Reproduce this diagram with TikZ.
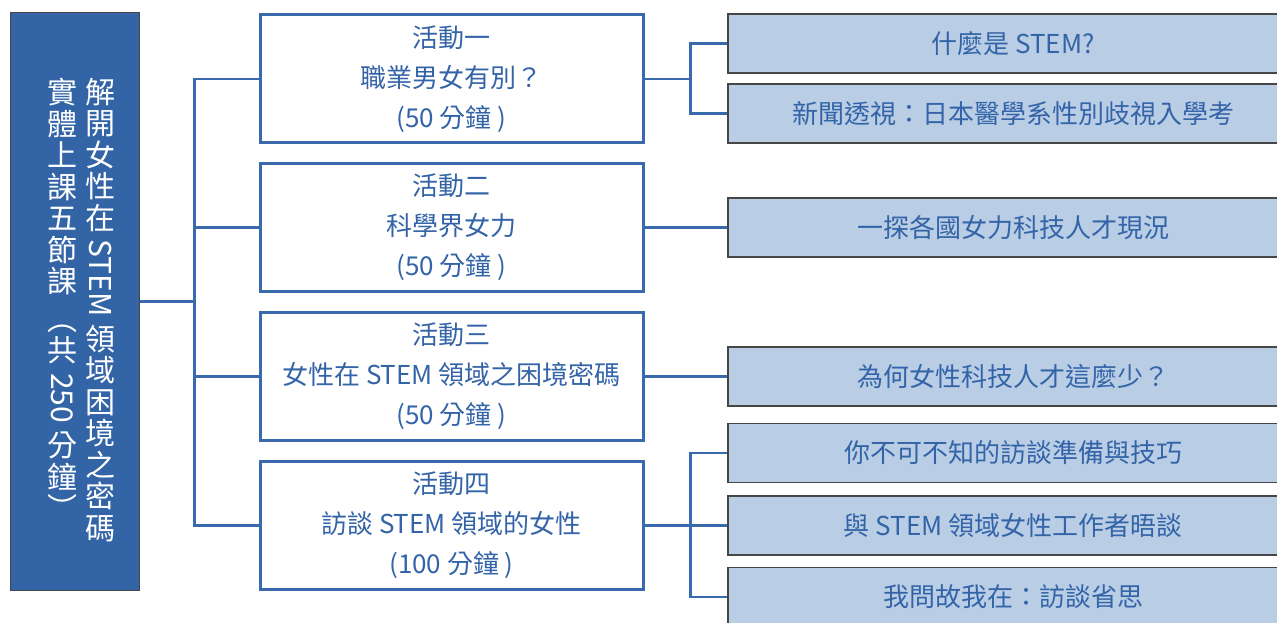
\documentclass[tikz,border=0pt]{standalone}
\usepackage{fontspec}
\setmainfont{Noto Sans CJK TC}
\usepackage{graphicx}
\definecolor{boxblue}{RGB}{50,100,166}
\definecolor{lineblue}{RGB}{58,106,174}
\definecolor{txtblue}{RGB}{52,100,168}
\definecolor{lightfill}{RGB}{185,205,229}
\definecolor{edgegray}{RGB}{70,70,70}
\newcommand\vlat[1]{\rotatebox[origin=c]{-90}{#1}}
\begin{document}
\begin{tikzpicture}[x=1pt,y=-1pt,
 conn/.style={draw=lineblue,line width=2.5pt},
 actbox/.style={draw=lineblue,line width=3pt,fill=white,minimum width=383pt,minimum height=128pt,inner sep=0pt,align=center,text=txtblue,font=\fontsize{26}{40}\selectfont},
 subbox/.style={draw=edgegray,line width=1.5pt,fill=lightfill,minimum width=570pt,minimum height=59pt,inner sep=0pt,text=txtblue,font=\fontsize{26}{30}\selectfont},
 mainbox/.style={draw=edgegray,line width=1pt,fill=boxblue,minimum width=129pt,minimum height=577pt,inner sep=0pt},
 vtext/.style={text=white,align=center,inner sep=0pt,font=\fontsize{30}{31.5}\selectfont,anchor=north}
]
\useasboundingbox (0,0) rectangle (1277,623);
\fill[white] (0,0) rectangle (1277,623);

% main box
\node[mainbox] (L) at (74.5,301.5) {};
\node[vtext] (Lr) at (100,78) {解\\開\\女\\性\\在\\[7pt]\vlat{STEM}\\[7pt]領\\域\\困\\境\\之\\密\\碼};
\node[vtext] (Ll) at (62,78) {實\\體\\上\\課\\五\\節\\課\\[6pt]︵\\共\\[8pt]\vlat{250}\\[8pt]分\\鐘\\︶};

% activity boxes
\node[actbox] (A1) at (451.5,79) {活動一\\職業男女有別？\\(50 分鐘 )};
\node[actbox] (A2) at (451.5,227.5) {活動二\\科學界女力\\(50 分鐘 )};
\node[actbox] (A3) at (451.5,376.5) {活動三\\女性在 STEM 領域之困境密碼\\(50 分鐘 )};
\node[actbox] (A4) at (451.5,525.5) {活動四\\訪談 STEM 領域的女性\\(100 分鐘 )};

% sub boxes
\node[subbox] (RA) at (1013,43.5) {什麼是 STEM?};
\node[subbox] (RB) at (1013,113.5) {新聞透視：日本醫學系性別歧視入學考};
\node[subbox] (RC) at (1013,227.5) {一探各國女力科技人才現況};
\node[subbox] (RD) at (1013,376.5) {為何女性科技人才這麼少？};
\node[subbox] (RE) at (1013,453) {你不可不知的訪談準備與技巧};
\node[subbox] (RF) at (1013,525.5) {與 STEM 領域女性工作者晤談};
\node[subbox] (RG) at (1013,597) {我問故我在：訪談省思};

% connectors
\foreach \a in {A1,A2,A3,A4}
  \draw[conn] (L.east) -- ++(55,0) |- (\a.west);
\draw[conn] (A1.east) -- ++(46,0) |- (RA.west);
\draw[conn] (A1.east) -- ++(46,0) |- (RB.west);
\draw[conn] (A2.east) -- (RC.west);
\draw[conn] (A3.east) -- (RD.west);
\draw[conn] (A4.east) -- ++(46,0) |- (RE.west);
\draw[conn] (A4.east) -- (RF.west);
\draw[conn] (A4.east) -- ++(46,0) |- (RG.west);
\end{tikzpicture}
\end{document}
